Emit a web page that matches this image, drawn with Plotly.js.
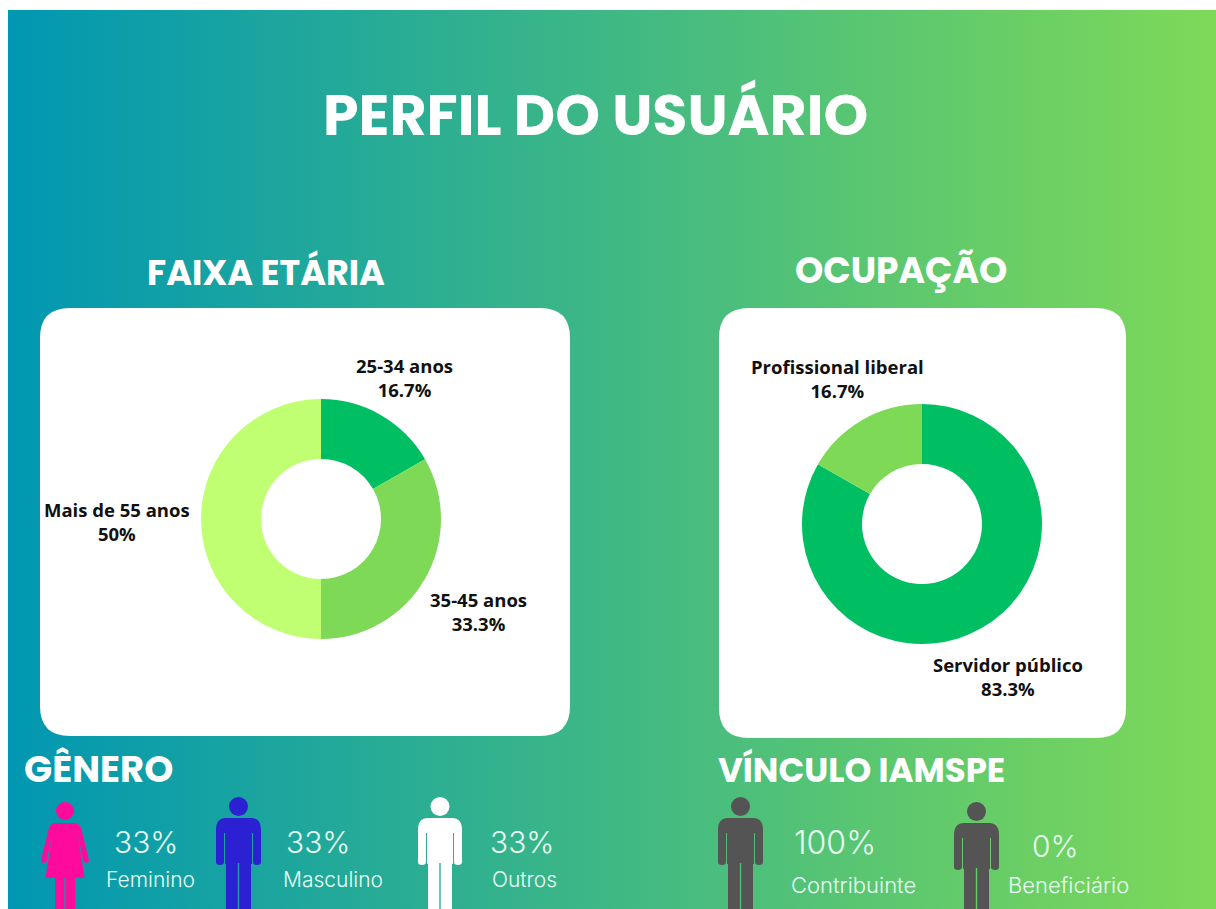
<!DOCTYPE html>
<html><head><meta charset="utf-8">
<script src="https://cdn.plot.ly/plotly-3.0.1.min.js"></script>
<style>
html,body{margin:0;padding:0;background:#fff;width:1216px;height:909px;overflow:hidden}
#bg{position:absolute;left:8px;top:10px;width:1208px;height:899px;background:linear-gradient(90deg,#0097B2 0%,#7ED957 100%)}
#chart{position:absolute;left:0;top:0;width:1216px;height:909px}
</style></head><body>
<div id="bg"></div><div id="chart"></div>
<script>
const ageLabels=['25-34 anos','35-45 anos','Mais de 55 anos'];
const ageValues=[16.7,33.3,50];
const ageColors=['#00BF63','#7ED957','#C1FF72'];
const occLabels=['Servidor público','Profissional liberal'];
const occValues=[83.3,16.7];
const occColors=['#00BF63','#7ED957'];
const genderLabels=['Feminino','Masculino','Outros'];
const genderValues=[33,33,33];
const bondLabels=['Contribuinte','Beneficiário'];
const bondValues=[100,0];

const W=1216,H=909;
const dom=(cx,cy,r)=>({x:[(cx-r)/W,(cx+r)/W],y:[1-(cy+r)/H,1-(cy-r)/H]});
const pie=(labels,values,colors,d)=>({type:'pie',labels,values,sort:false,direction:'clockwise',rotation:0,hole:0.5,
  marker:{colors},textinfo:'none',domain:d,hoverinfo:'label+percent',showlegend:false});
const data=[pie(ageLabels,ageValues,ageColors,dom(321,519,120)),pie(occLabels,occValues,occColors,dom(922,524,120))];

const HEAD="Poppins, Inter, 'Open Sans', sans-serif";
const LIGHT="Inter, 'Noto Sans', sans-serif";
const txt=(x,y,text,size,color,family,weight,anchor)=>({xref:'x',yref:'y',x,y,text,showarrow:false,xanchor:anchor||'center',yanchor:'middle',
  font:{size,color,family,weight:weight||400}});
const lab=(x,y,l,v)=>txt(x,y,`${l}<br>${v}%`,18.5,'#111','Open Sans',700);
const STAT='#E8FFF4';
const annotations=[
  txt(595,115,'PERFIL DO USUÁRIO',57,'#fff',HEAD,700),
  txt(266,272,'FAIXA ETÁRIA',35,'#fff',HEAD,700),
  txt(901,270,'OCUPAÇÃO',36,'#fff',HEAD,700),
  txt(22,769,'GÊNERO',37,'#fff',HEAD,700,'left'),
  txt(716,770,'VÍNCULO IAMSPE',34,'#fff',HEAD,700,'left'),
  lab(404,377,ageLabels[0],ageValues[0]),
  lab(478,611,ageLabels[1],ageValues[1]),
  lab(117,521,ageLabels[2],ageValues[2]),
  lab(837,378,occLabels[1],occValues[1]),
  lab(1008,676,occLabels[0],occValues[0]),
];
const gPctX=[146,318,522],gLabX=[150,333,524];
genderLabels.forEach((l,i)=>{
  annotations.push(txt(gPctX[i],842,genderValues[i]+'%',30,STAT,LIGHT,300));
  annotations.push(txt(gLabX[i],879,l,21,STAT,LIGHT,300));
});
annotations.push(txt(835,842,bondValues[0]+'%',32,STAT,LIGHT,300));
annotations.push(txt(1055,846,bondValues[1]+'%',30,STAT,LIGHT,300));
annotations.push(txt(853,885,bondLabels[0],22,STAT,LIGHT,300));
annotations.push(txt(1068,885,bondLabels[1],22,STAT,LIGHT,300));

const rr=(x0,y0,x1,y1,r)=>`M${x0+r},${y0}H${x1-r}Q${x1},${y0} ${x1},${y0+r}V${y1-r}Q${x1},${y1} ${x1-r},${y1}H${x0+r}Q${x0},${y1} ${x0},${y1-r}V${y0+r}Q${x0},${y0} ${x0+r},${y0}Z`;
const card=(x0,y0,x1,y1)=>({type:'path',xref:'x',yref:'y',path:rr(x0,y0,x1,y1,30),fillcolor:'#fff',line:{width:0},layer:'below'});
const head=(cx,top,r,color)=>({type:'circle',xref:'x',yref:'y',x0:cx-r,x1:cx+r,y0:top,y1:top+2*r,fillcolor:color,line:{width:0},layer:'below'});
function man(cx,top,color,h,leg){
  const y=top+21;
  return [head(cx,top,9.5,color),{type:'path',xref:'x',yref:'y',layer:'below',fillcolor:color,line:{width:0},
    path:`M${cx-h+10},${y}H${cx+h-10}Q${cx+h},${y} ${cx+h},${y+12}V${y+44}Q${cx+h},${y+47} ${cx+h-4},${y+47}Q${cx+h-8},${y+47} ${cx+h-8},${y+44}V${y+15}H${cx+h-9}V${y+46}H${cx+leg}V${y+105}H${cx+0.7}V${y+45}H${cx-0.7}V${y+105}H${cx-leg}V${y+46}H${cx-h+9}V${y+15}H${cx-h+8}V${y+44}Q${cx-h+8},${y+47} ${cx-h+4},${y+47}Q${cx-h},${y+47} ${cx-h},${y+44}V${y+12}Q${cx-h},${y} ${cx-h+10},${y}Z`}];
}
function woman(cx,top,color){
  const y=top+21;
  return [head(cx,top,9,color),{type:'path',xref:'x',yref:'y',layer:'below',fillcolor:color,line:{width:0},
    path:`M${cx-9},${y}H${cx+9}Q${cx+14},${y} ${cx+16},${y+5}L${cx+24},${y+37}Q${cx+24},${y+40} ${cx+21},${y+40}Q${cx+19},${y+40} ${cx+18},${y+37}L${cx+13},${y+12}L${cx+19.5},${y+55}H${cx+10}V${y+95}H${cx+0.7}V${y+55}H${cx-0.7}V${y+95}H${cx-10}V${y+55}H${cx-19.5}L${cx-13},${y+12}L${cx-18},${y+37}Q${cx-19},${y+40} ${cx-21},${y+40}Q${cx-24},${y+40} ${cx-24},${y+37}L${cx-16},${y+5}Q${cx-14},${y} ${cx-9},${y}Z`}];
}
const shapes=[card(40,308,570,736),card(719,308,1126,738),
  ...woman(65,802,'#FF0B9B'),...man(238.5,797,'#2B21D3',22.5,12.5),...man(440,797,'#FFFFFF',22,12),
  ...man(740.5,797,'#545454',22.5,12.5),...man(976.5,802,'#545454',22.5,12.5)];
const noax={visible:false,fixedrange:true,showgrid:false,zeroline:false};
const layout={width:W,height:H,margin:{l:0,r:0,t:0,b:0},paper_bgcolor:'rgba(0,0,0,0)',plot_bgcolor:'rgba(0,0,0,0)',
  xaxis:{...noax,range:[0,W]},yaxis:{...noax,range:[H,0]},annotations,shapes,showlegend:false};
Plotly.newPlot('chart',data,layout,{displayModeBar:false,staticPlot:true});
</script></body></html>
